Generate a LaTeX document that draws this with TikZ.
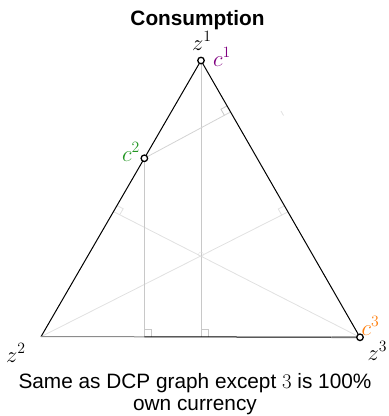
\RequirePackage{fix-cm}
\documentclass[tikz,border=0pt]{standalone}
\usepackage[no-math]{fontspec}
\setsansfont{Liberation Sans}
\usetikzlibrary{calc}
\definecolor{cpurple}{RGB}{128,0,128}
\definecolor{cgreen}{RGB}{34,150,34}
\definecolor{corange}{RGB}{255,127,14}
\definecolor{gmid}{RGB}{200,200,200}
\definecolor{glight}{RGB}{225,225,225}
\begin{document}
\begin{tikzpicture}[x=1pt,y=-1pt,
  edge/.style={black,line width=1pt},
  guide/.style={gmid,line width=0.8pt},
  faint/.style={glight,line width=0.8pt},
  vtx/.style={circle,draw=black,fill=white,line width=1.3pt,inner sep=0pt,minimum size=6.5pt},
  ctr/.style={circle,draw=glight,inner sep=0pt,minimum size=5pt},
  lbl/.style={inner sep=0pt,font=\fontsize{22.5}{26}\selectfont},
  txt/.style={inner sep=0pt,font=\sffamily\fontsize{20.8}{22}\selectfont,align=center}]
\useasboundingbox (0,0) rectangle (389,416);
\coordinate (z1) at (201,60.5);
\coordinate (z2) at (41,336.7);
\coordinate (z3) at (360,337.3);
\coordinate (c2) at ($(z1)!0.354!(z2)$);
\coordinate (c2r) at ($(z1)!0.186!(z3)$);
\coordinate (c2b) at (c2 |- z2);
\coordinate (z1b) at (z1 |- z2);
\coordinate (lf) at ($(z1)!0.547!(z2)$);
\coordinate (rf) at ($(z1)!0.547!(z3)$);
\coordinate (cc) at (201,254.5);
\coordinate (t1) at (281,111);
\coordinate (t2) at (283.5,115.5);
\coordinate (gb) at ($(z2)!0.91!(z3)$);
% faint diagonals
\draw[faint] (z2) -- (rf);
\draw[faint] (z3) -- (lf);
\draw[faint] (t1) -- (t2);
% guides
\draw[guide] (z1) -- (z1b);
\draw[guide] (c2) -- (c2b);
\draw[guide,gmid!80] (c2) -- (c2r);
% right-angle marks
\draw[guide] ($(z1b)+(7,0)$) -- ($(z1b)+(7,-7)$) -- ($(z1b)+(0,-7)$);
\draw[guide] ($(c2b)+(7,0)$) -- ($(c2b)+(7,-7)$) -- ($(c2b)+(0,-7)$);
\coordinate (a1) at ($(c2r)!7pt!(z1)$);
\coordinate (a2) at ($(c2r)!7pt!(c2)$);
\draw[guide] (a1) -- ($(a1)+(a2)-(c2r)$) -- (a2);
\coordinate (b1) at ($(lf)!7pt!(z1)$);
\coordinate (b2) at ($(lf)!7pt!(z3)$);
\draw[faint] (b1) -- ($(b1)+(b2)-(lf)$) -- (b2);
\coordinate (d1) at ($(rf)!7pt!(z1)$);
\coordinate (d2) at ($(rf)!7pt!(z2)$);
\draw[faint] (d1) -- ($(d1)+(d2)-(rf)$) -- (d2);
% triangle
\draw[edge] (z2) -- (z1) -- (z3);
\draw[edge,black!45] (z2) -- ($(c2b)+(0,0.05)$);
\draw[edge] ($(c2b)+(0,0.05)$) -- (gb);
\draw[line width=1.8pt,black!55] (gb) -- (z3);
% points
\node[ctr] (nc) at (cc) {};
\node[vtx] (n1) at (z1) {};
\node[vtx] (n2) at (c2) {};
\node[vtx] (n3) at (z3) {};
% labels
\node[lbl,anchor=base west] (lz1) at (192,50) {$z^1$};
\node[lbl,anchor=base west,text=cpurple] (lc1) at (213,66) {$c^1$};
\node[lbl,anchor=base west,text=cgreen] (lc2) at (122,161) {$c^2$};
\node[lbl,anchor=base west,text=corange] (lc3) at (361.5,335) {$c^3$};
\node[lbl,anchor=base west] (lz2) at (6,362) {$z^2$};
\node[lbl,anchor=base west] (lz3) at (367.5,360) {$z^3$};
% texts
\node[inner sep=0pt,font=\sffamily\bfseries\fontsize{20.8}{24}\selectfont,anchor=base] (title) at (197.5,25) {Consumption};
\node[txt,anchor=base] (cap1) at (195,388) {Same as DCP graph except $3$ is 100\%};
\node[txt,anchor=base] (cap2) at (195,410) {own currency};
\end{tikzpicture}
\end{document}
